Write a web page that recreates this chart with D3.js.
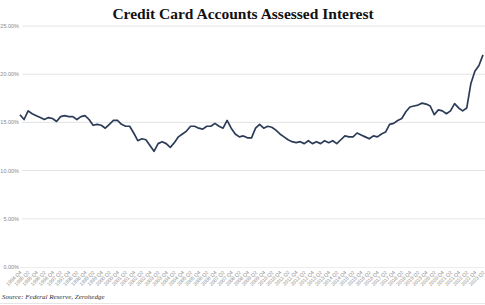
<html>
<head>
	<title>Credit Card Accounts Assessed Interest</title>
	<script src="https://d3js.org/d3.v7.min.js"></script>
	<style type="text/css">
		body { margin: 0; padding: 0; background: #fff; }
		#chart { margin: 0; padding: 0; }
	</style>
</head>
<body>
<div id="chart"></div>
<script>

// quarterly, 1994 Q4 .. 2023 Q2 (rate on accounts assessed interest, %)
var startYear = 1994, startQ = 4;
var rates = [
	15.8, 15.3, 16.2, 15.9, 15.7, 15.5, 15.3, 15.5, 15.4, 15.1,
	15.6, 15.7, 15.6, 15.6, 15.3, 15.6, 15.7, 15.3, 14.7, 14.8,
	14.7, 14.4, 14.8, 15.2, 15.2, 14.8, 14.6, 14.6, 13.9, 13.1,
	13.3, 13.2, 12.6, 12.0, 12.8, 13.0, 12.8, 12.4, 12.9, 13.5,
	13.8, 14.1, 14.6, 14.6, 14.4, 14.3, 14.6, 14.6, 14.9, 14.6,
	14.4, 15.2, 14.4, 13.8, 13.5, 13.6, 13.4, 13.4, 14.4, 14.8,
	14.4, 14.6, 14.5, 14.2, 13.8, 13.5, 13.2, 13.0, 12.9, 13.0,
	12.8, 13.1, 12.8, 13.0, 12.8, 13.1, 12.9, 13.1, 12.8, 13.2,
	13.6, 13.5, 13.5, 13.9, 13.7, 13.5, 13.3, 13.6, 13.5, 13.8,
	14.0, 14.8, 14.9, 15.2, 15.4, 16.1, 16.6, 16.7, 16.8, 17.0,
	16.9, 16.7, 15.8, 16.3, 16.2, 15.9, 16.2, 16.95, 16.5, 16.2,
	16.5, 19.0, 20.3, 20.9, 22.0
];
var quarters = rates.map(function(d, i) {
	var n = (startQ - 1) + i;
	return (startYear + Math.floor(n / 4)) + " Q" + (n % 4 + 1);
});
var yTicks = [0, 5, 10, 15, 20, 25];

var ww = 485, wh = 305;

var svg = d3.select("#chart").append("svg")
	.attr("width", ww)
	.attr("height", wh);

var x = d3.scalePoint()
	.domain(quarters)
	.range([20, 483]);

var y = d3.scaleLinear()
	.domain([0, 25])
	.range([267, 26]);

// title
svg.append("text")
	.attr("x", 243)
	.attr("y", 19)
	.attr("text-anchor", "middle")
	.style("font-family", "Liberation Serif, serif")
	.style("font-weight", "bold")
	.style("font-size", "15.5px")
	.style("fill", "#111")
	.text("Credit Card Accounts Assessed Interest");

// gridlines
svg.append("g").selectAll("line")
	.data(yTicks.slice(1))
	.enter().append("line")
	.attr("x1", 22).attr("x2", 485)
	.attr("y1", function(d) { return y(d); })
	.attr("y2", function(d) { return y(d); })
	.attr("stroke", "#e4e4e4")
	.attr("stroke-width", 1);

// y labels
svg.append("g").selectAll("text")
	.data(yTicks)
	.enter().append("text")
	.attr("x", 19)
	.attr("y", function(d) { return y(d) + 2; })
	.attr("text-anchor", "end")
	.style("font-family", "Liberation Sans, sans-serif")
	.style("font-size", "5.5px")
	.style("fill", "#888")
	.text(function(d) { return d.toFixed(2) + "%"; });

// x axis
var xAxis = d3.axisBottom(x)
	.tickValues(quarters.filter(function(d, i) { return i % 2 === 0; }))
	.tickSize(0)
	.tickPadding(3);

var gx = svg.append("g")
	.attr("transform", "translate(0,267)")
	.call(xAxis);
gx.select(".domain")
	.attr("stroke", "#d8d8d8")
	.attr("stroke-dasharray", "1,1");
gx.selectAll("text")
	.style("font-family", "Liberation Sans, sans-serif")
	.style("font-size", "5px")
	.style("fill", "#8a8a8a")
	.attr("text-anchor", "end")
	.attr("dx", "-0.6em")
	.attr("dy", "0.4em")
	.attr("transform", "rotate(-45)");

// line
var line = d3.line()
	.x(function(d, i) { return x(quarters[i]); })
	.y(function(d) { return y(d); });

svg.append("path")
	.datum(rates)
	.attr("d", line)
	.attr("fill", "none")
	.attr("stroke", "#2c3b57")
	.attr("stroke-width", 1.7)
	.attr("stroke-linejoin", "round");

// source
svg.append("text")
	.attr("x", 2)
	.attr("y", 299)
	.style("font-family", "Liberation Serif, serif")
	.style("font-style", "italic")
	.style("font-size", "7px")
	.style("fill", "#333")
	.text("Source: Federal Reserve, Zerohedge");

svg.append("line")
	.attr("x1", 0).attr("x2", ww)
	.attr("y1", 303.5).attr("y2", 303.5)
	.attr("stroke", "#e6e6e6");

</script>
</body>
</html>
